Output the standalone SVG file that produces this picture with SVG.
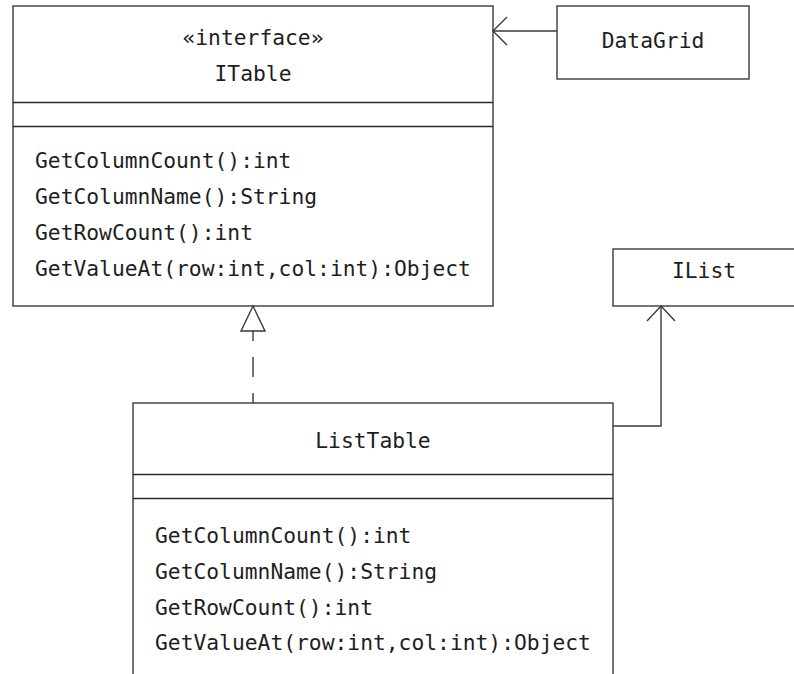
<svg xmlns="http://www.w3.org/2000/svg" width="794" height="674" viewBox="0 0 794 674">
  <style>
    .box { fill: #ffffff; stroke: #3a3a3a; stroke-width: 1.4; }
    .sep { stroke: #2a2a2a; stroke-width: 1.4; }
    .edge { fill: none; stroke: #3a3a3a; stroke-width: 1.4; }
    .head { fill: #ffffff; stroke: #3a3a3a; stroke-width: 1.4; stroke-linejoin: miter; }
    text { font-family: "DejaVu Sans Mono", "Liberation Mono", monospace; font-size: 21.3px; fill: #1e1e1e; }
    .c { text-anchor: middle; }
  </style>

  <!-- interface ITable -->
  <g id="ITable">
    <rect class="box" x="13" y="6" width="480" height="300"/>
    <line class="sep" x1="13" y1="102.5" x2="493" y2="102.5"/>
    <line class="sep" x1="13" y1="126.5" x2="493" y2="126.5"/>
    <text class="c" x="253" y="45">«interface»</text>
    <text class="c" x="253" y="81">ITable</text>
    <text x="35" y="168">GetColumnCount():int</text>
    <text x="35" y="204">GetColumnName():String</text>
    <text x="35" y="240">GetRowCount():int</text>
    <text x="35" y="276">GetValueAt(row:int,col:int):Object</text>
  </g>

  <!-- DataGrid -->
  <g id="DataGrid">
    <rect class="box" x="557" y="6" width="192" height="73"/>
    <text class="c" x="653" y="48">DataGrid</text>
  </g>

  <!-- IList -->
  <g id="IList">
    <rect class="box" x="613" y="249" width="184" height="57"/>
    <text class="c" x="704" y="278">IList</text>
  </g>

  <!-- ListTable -->
  <g id="ListTable">
    <rect class="box" x="133" y="403" width="480" height="280"/>
    <line class="sep" x1="133" y1="474.5" x2="613" y2="474.5"/>
    <line class="sep" x1="133" y1="498.5" x2="613" y2="498.5"/>
    <text class="c" x="373" y="448">ListTable</text>
    <text x="155" y="542.5">GetColumnCount():int</text>
    <text x="155" y="578.5">GetColumnName():String</text>
    <text x="155" y="614.5">GetRowCount():int</text>
    <text x="155" y="649.5">GetValueAt(row:int,col:int):Object</text>
  </g>

  <!-- connectors -->
  <g id="connectors">
    <!-- DataGrid uses ITable -->
    <line class="edge" x1="557" y1="31" x2="493" y2="31"/>
    <polyline class="edge" points="507,17 493,31 507,45"/>
    <!-- ListTable realizes ITable -->
    <line class="edge" x1="253" y1="331" x2="253" y2="403" stroke-dasharray="20 16" stroke-dashoffset="10"/>
    <polygon class="head" points="253,306 241,331 265,331"/>
    <!-- ListTable uses IList -->
    <polyline class="edge" points="613,426 661,426 661,306"/>
    <polyline class="edge" points="647,321 661,306 675,321"/>
  </g>
</svg>
